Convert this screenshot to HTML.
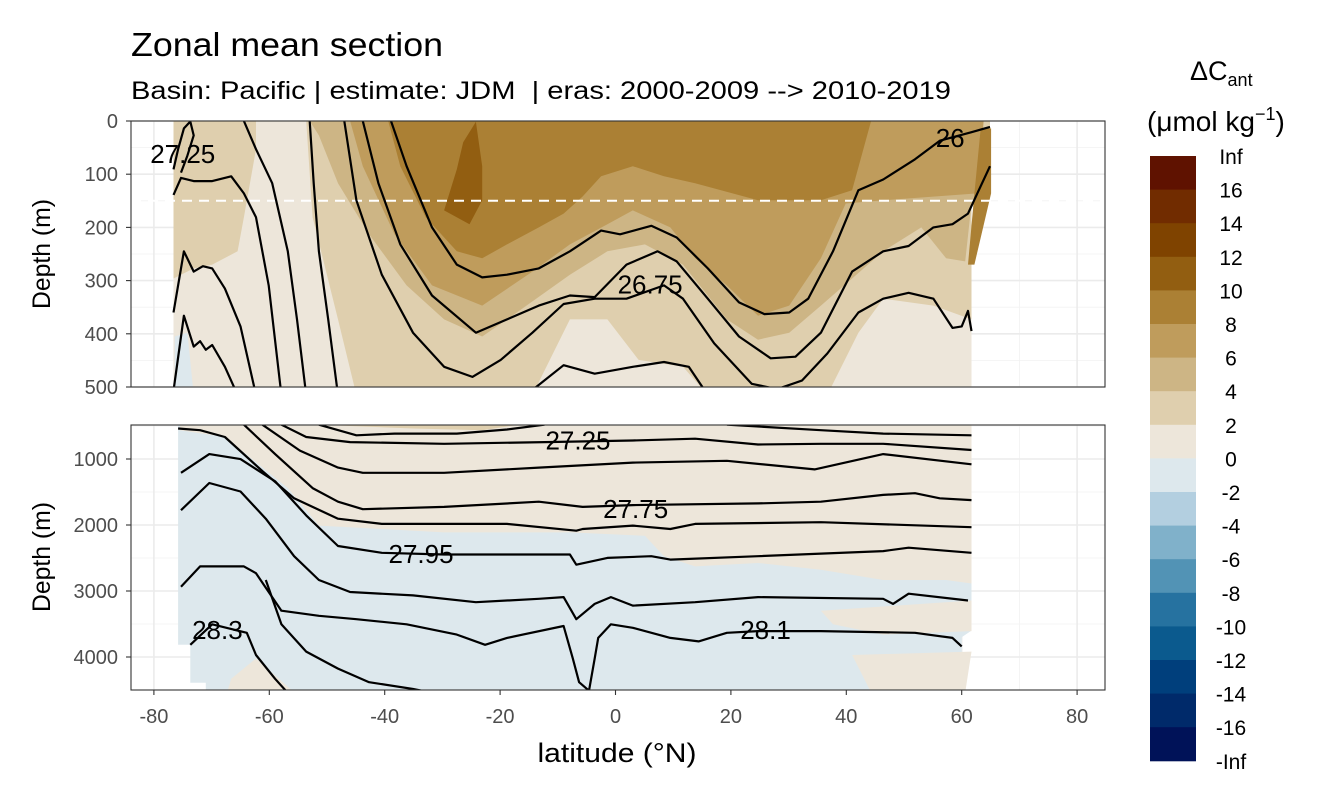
<!DOCTYPE html>
<html><head><meta charset="utf-8">
<style>
html,body{margin:0;padding:0;background:#fff;}
svg{display:block;font-family:"Liberation Sans",Arial,sans-serif;}
</style></head>
<body>
<svg id="chart" width="1344" height="806" viewBox="0 0 1344 806" xmlns="http://www.w3.org/2000/svg">
<defs>
<clipPath id="clipTop"><rect x="131" y="121" width="974" height="266"/></clipPath>
<clipPath id="clipBot"><rect x="131" y="425" width="974" height="265"/></clipPath>
</defs>
<rect width="1344" height="806" fill="#fff"/>
<text x="131" y="56" font-size="33" textLength="312" lengthAdjust="spacingAndGlyphs" fill="#000">Zonal mean section</text>
<text x="131" y="99" font-size="25" textLength="820" lengthAdjust="spacingAndGlyphs" fill="#000" xml:space="preserve">Basin: Pacific | estimate: JDM  | eras: 2000-2009 --&gt; 2010-2019</text>
<g id="gridTop"></g>
<g id="gridBot"></g>
<g id="fillTop" clip-path="url(#clipTop)"></g>
<g id="fillBot" clip-path="url(#clipBot)"></g>
<line id="dashLine" x1="131" x2="1105" stroke="#fff" stroke-width="2" stroke-dasharray="10,7"/>
<g id="linesTop" clip-path="url(#clipTop)"></g>
<g id="linesBot" clip-path="url(#clipBot)"></g>
<g id="labels" font-size="26" fill="#000"></g>
<rect x="131" y="121" width="974" height="266" fill="none" stroke="#333" stroke-width="1.1"/>
<rect x="131" y="425" width="974" height="265" fill="none" stroke="#333" stroke-width="1.1"/>
<g id="axes" font-size="20" fill="#4d4d4d"></g>
<text transform="translate(50,254) rotate(-90)" text-anchor="middle" font-size="25" textLength="110" lengthAdjust="spacingAndGlyphs">Depth (m)</text>
<text transform="translate(50,557) rotate(-90)" text-anchor="middle" font-size="25" textLength="110" lengthAdjust="spacingAndGlyphs">Depth (m)</text>
<text x="617" y="762" text-anchor="middle" font-size="27" textLength="159" lengthAdjust="spacingAndGlyphs">latitude (°N)</text>
<g id="legend">
<text x="1190" y="80" font-size="27">ΔC<tspan font-size="18" dy="6">ant</tspan></text>
<text x="1147" y="131" font-size="28">(μmol kg<tspan font-size="18" dy="-11">−1</tspan><tspan dy="11">)</tspan></text>
</g>
</svg>
<script>
const NS="http://www.w3.org/2000/svg";
// ---- colour scale data ----
const legendBreaks=["Inf","16","14","12","10","8","6","4","2","0","-2","-4","-6","-8","-10","-12","-14","-16","-Inf"];
const legendColors=["#5f1200","#712c00","#7f4300","#925e11","#ab8034","#bf9c5c","#cdb585","#dfcfae","#ede6da","#dde8ed","#b3cfe0","#80b1ca","#5293b5","#2672a0","#0b5a8e","#003f7c","#002a6a","#001258"];
// ---- axis data ----
const latTicks=[-80,-60,-40,-20,0,20,40,60,80];
const latMinor=[-70,-50,-30,-10,10,30,50,70];
const topDepthTicks=[0,100,200,300,400,500];
const topDepthMinor=[50,150,250,350,450];
const botDepthTicks=[1000,2000,3000,4000];
const botDepthMinor=[500,1500,2500,3500,4500];
const mixedLayerDepth=150;
// ---- top panel fills (lat, depth) ----
const topBaseLat=[-76.6,61.7,61.7,-76.6];
const topBaseDep=[0,0,500,500];
const fill24aLat=[-53.6,64.9,64.9,61.7,61.7,55.1,46.4,42.1,36.7,16.0,11.7,4.0,-1.4,-7.9,-14.4,-44.9,-48.1,-52.5];
const fill24aDep=[0,0,136,136,373,347,334,398,515,515,462,449,373,373,515,515,373,181];
const fill24bLat=[-76.6,-62.3,-62.3,-64.4,-65.5,-69.9,-73.1,-76.6];
const fill24bDep=[0,0,53,181,245,270,277,296];
const fill46Lat=[-53.0,63.8,62.7,61.7,60.6,57.3,53.0,46.4,41.0,35.6,30.1,24.7,19.3,11.7,5.1,-1.4,-7.9,-18.8,-23.1,-29.7,-36.2,-42.7,-48.1,-51.4];
const fill46Dep=[0,0,136,155,264,258,200,245,296,347,398,411,373,270,232,245,289,373,405,373,309,213,117,27];
const fill68Lat=[-48.1,63.8,62.7,46.4,39.9,35.6,30.1,24.7,19.3,13.8,9.5,3.0,-1.4,-7.9,-14.4,-23.1,-31.8,-38.3,-43.8,-46.0];
const fill68Dep=[0,0,136,149,155,258,347,366,309,258,200,168,194,232,283,347,309,213,85,0];
const fill810Lat=[-39.4,44.3,41.0,35.6,24.7,13.8,8.4,3.0,-2.5,-5.7,-9.0,-13.3,-18.8,-23.1,-27.5,-32.9,-37.3];
const fill810Dep=[0,0,130,149,149,117,104,85,104,142,174,200,232,258,245,181,85];
const fill810rLat=[63.3,65.1,65.1,62.2,61.1,62.2];
const fill810rDep=[14,14,136,270,270,136];
const fill1012Lat=[-26.4,-24.2,-23.1,-23.1,-25.3,-29.7,-27.5];
const fill1012Dep=[40,1.5,85,149,194,168,91];
const fillTopBlueLat=[-76.4,-74.2,-73.1,-76.4];
const fillTopBlueDep=[405,398,515,515];
// ---- bottom panel fills ----
const botBaseLat=[-75.8,61.7,61.7,60.0,60.0,-71.0,-71.0,-73.7,-73.7,-75.8];
const botBaseDep=[480,480,3600,3700,4600,4600,4390,4390,3815,3815];
const botBeigeLat=[-75.5,61.7,61.7,57.3,46.4,35.6,24.7,13.8,8.4,5.1,-7.9,-29.7,-40.5,-51.4,-56.8,-67.7,-75.5];
const botBeigeDep=[480,480,2886,2834,2834,2679,2576,2628,2473,2163,2112,2112,2060,2009,1441,667,564];
const botBeige2Lat=[35.6,61.7,61.7,46.4,37.7];
const botBeige2Dep=[3299,3144,3608,3660,3505];
const botBeige3Lat=[41.0,61.7,60.6,44.3];
const botBeige3Dep=[3969,3918,4537,4537];
const botBeige4Lat=[-66.6,-62.3,-55.7,-57.9,-67.7];
const botBeige4Dep=[4331,4021,4537,4650,4650];
const botTanLat=[-51.4,-16.6,-23.1,-35.1,-46.0];
const botTanDep=[480,480,564,538,500];
// ---- top panel isopycnals ----
const tL1Lat=[-76.6,-74.8,-73.1,-72.0,-71.0,-69.9,-67.7,-65.5];
const tL1Dep=[507,366,424,414,430,421,462,515];
const tL2Lat=[-76.6,-74.8,-73.1,-71.5,-69.9,-67.7,-65.0,-62.3];
const tL2Dep=[360,245,283,273,277,315,386,515];
const tL3Lat=[-76.6,-75.3,-73.1,-69.9,-66.6,-64.4,-62.3,-60.1,-57.9];
const tL3Dep=[139,107,113,113,104,136,181,309,515];
const tL4Lat=[-64.4,-62.3,-59.5,-56.8,-55.2,-53.6];
const tL4Dep=[0,53,117,245,373,515];
const tL5Lat=[-53.0,-52.3,-51.4,-49.8,-48.1];
const tL5Dep=[0,117,245,373,515];
const tW3Lat=[-47.0,-44.9,-40.5,-35.1,-29.7,-24.8,-19.9,-14.4,-9.0,-3.6,1.9,8.4,11.7,17.1,23.6,28.0,32.3,36.7,42.1,46.4,50.8,55.1,58.4,60.0,61.1,61.7];
const tW3Dep=[0,149,289,398,462,481,449,398,344,334,334,309,334,418,494,504,488,437,360,334,323,334,389,386,357,395];
const tW2Lat=[-43.8,-41.1,-37.3,-31.8,-24.2,-18.8,-13.3,-7.9,-3.6,1.9,7.3,10.6,16.0,21.4,26.9,31.2,35.6,41.0,46.4,50.8,55.1,58.4,61.1,62.7,64.9];
const tW2Dep=[0,117,232,328,398,373,347,328,331,270,245,264,334,405,446,443,398,283,245,235,200,194,174,136,85];
const tW1Lat=[-38.9,-36.2,-31.8,-27.5,-23.1,-18.8,-13.3,-7.9,-2.5,0.8,6.2,10.6,16.0,21.4,25.8,30.1,33.4,37.7,42.1,46.4,51.9,56.2,61.7,64.9];
const tW1Dep=[0,85,200,270,294,289,277,245,206,213,197,219,277,341,363,360,334,245,130,110,72,37,21,11];
const tW4Lat=[-15.5,-9.0,-3.6,3.0,8.4,12.7,16.0];
const tW4Dep=[515,459,475,462,453,462,515];
const tCurlLat=[-76.6,-75.8,-74.8,-73.7,-73.1,-74.2,-75.3];
const tCurlDep=[91,53,14,1,27,65,97];
// ---- bottom panel isopycnals ----
const bL1Lat=[-51.4,-44.9,-38.3,-27.5,-18.8,-12.3];
const bL1Dep=[480,641,615,615,553,480];
const bL1rLat=[19.3,35.6,46.4,61.7];
const bL1rDep=[480,564,615,641];
const bL2Lat=[-57.9,-53.6,-46.0,-29.7,-12.3,3.0,13.8,24.7,35.6,46.4,61.7];
const bL2Dep=[480,667,744,770,744,719,693,781,770,770,863];
const bL3Lat=[-61.2,-54.7,-48.1,-43.8,-29.7,-13.3,3.0,19.3,34.5,46.4,61.7];
const bL3Dep=[480,873,1131,1209,1209,1131,1054,1028,1157,925,1080];
const bL4Lat=[-64.4,-59.0,-52.5,-48.1,-43.8,-29.7,-13.3,-5.7,3.0,24.7,35.6,46.4,51.9,56.2,61.7];
const bL4Dep=[480,925,1441,1647,1761,1725,1647,1725,1699,1673,1647,1544,1518,1596,1622];
const bL5Lat=[-75.8,-72.0,-67.7,-61.2,-55.7,-48.1,-40.5,-18.8,-6.8,-5.7,3.0,9.5,13.8,35.6,61.7];
const bL5Dep=[538,564,667,1183,1596,1905,1983,1983,2086,2060,2009,2060,1983,1957,2034];
const bL6Lat=[-75.3,-70.4,-65.0,-59.0,-53.6,-48.1,-40.5,-29.7,-7.9,-6.8,-1.4,6.2,9.5,24.7,46.4,50.8,61.7];
const bL6Dep=[1209,925,1002,1338,1854,2318,2421,2447,2447,2602,2499,2473,2525,2473,2396,2344,2421];
const bL7Lat=[-75.3,-70.4,-65.0,-60.6,-55.7,-51.4,-46.0,-35.1,-24.2,-13.3,-9.0,-6.8,-3.6,-0.8,3.0,13.8,24.7,46.4,48.1,50.8,61.1];
const bL7Dep=[1776,1364,1493,1905,2473,2834,3015,3066,3170,3118,3092,3428,3195,3092,3221,3170,3092,3118,3195,3041,3144];
const bL8Lat=[-75.3,-72.0,-64.4,-62.3,-57.9,-51.4,-44.9,-36.2,-27.5,-22.6,-18.8,-9.0,-7.4,-6.3,-4.6,-3.6,-3.0,-0.8,3.0,9.5,14.4,19.3,24.7,35.6,51.9,58.4,60.0];
const bL8Dep=[2937,2628,2628,2731,3299,3376,3428,3505,3660,3815,3711,3531,4021,4382,4511,4021,3711,3505,3557,3711,3763,3634,3608,3608,3634,3711,3840];
const bL9Lat=[-60.6,-57.9,-53.6,-48.1,-42.7,-35.1,-27.5];
const bL9Dep=[2834,3505,3918,4176,4382,4485,4614];
const bL10Lat=[-73.7,-69.9,-63.9,-62.3,-59.0,-55.7];
const bL10Dep=[3815,3505,3634,3969,4331,4650];
// ---- contour labels ----
const labelText=["27.25","26","26.75","27.25","27.75","27.95","28.3","28.1"];
const labelLat=[-75.0,58.0,6.0,-6.5,3.5,-33.7,-69.0,26.0];
const labelDep=[62,32,307,720,1755,2440,3590,3590];
const labelPanel=["top","top","top","bot","bot","bot","bot","bot"];

// ---- scales ----
function xS(lat){return 615.5+lat*5.77;}
function yT(d){return 121+d*0.532;}
function yB(d){return 459+(d-1000)*0.066;}

function mk(tag,attrs,parent){const e=document.createElementNS(NS,tag);for(const k in attrs)e.setAttribute(k,attrs[k]);parent.appendChild(e);return e;}
function pts(lats,deps,yf){return lats.map((l,i)=>xS(l).toFixed(1)+","+yf(deps[i]).toFixed(1)).join(" ");}

// grid
const gT=document.getElementById('gridTop'), gB=document.getElementById('gridBot');
function grid(g,ticks,minor,yf,y0,y1){
  minor.forEach(v=>{const l=mk('line',{x1:131,x2:1105,y1:yf(v),y2:yf(v),stroke:'#f2f2f2','stroke-width':0.8},g);
    
    });
  latMinor.forEach(v=>{const l=mk('line',{x1:xS(v),x2:xS(v),y1:y0,y2:y1,stroke:'#f2f2f2','stroke-width':0.8},g);
    
    });
  ticks.forEach(v=>{const l=mk('line',{x1:131,x2:1105,y1:yf(v),y2:yf(v),stroke:'#ebebeb','stroke-width':1.6},g);
    
    });
  latTicks.forEach(v=>{const l=mk('line',{x1:xS(v),x2:xS(v),y1:y0,y2:y1,stroke:'#ebebeb','stroke-width':1.6},g);
    
    });
}
grid(gT,topDepthTicks,topDepthMinor,yT,121,387);
grid(gB,botDepthTicks,botDepthMinor,yB,425,690);

// fills
const fT=document.getElementById('fillTop'), fB=document.getElementById('fillBot');
const topFills=[[topBaseLat,topBaseDep,8],[fillTopBlueLat,fillTopBlueDep,9],[fill24aLat,fill24aDep,7],[fill24bLat,fill24bDep,7],[fill46Lat,fill46Dep,6],[fill68Lat,fill68Dep,5],[fill810Lat,fill810Dep,4],[fill810rLat,fill810rDep,4],[fill1012Lat,fill1012Dep,3]];
topFills.forEach(f=>{const p=mk('polygon',{points:pts(f[0],f[1],yT),fill:legendColors[f[2]]},fT);
  
  });
const botFills=[[botBaseLat,botBaseDep,9],[botBeigeLat,botBeigeDep,8],[botBeige2Lat,botBeige2Dep,8],[botBeige3Lat,botBeige3Dep,8],[botBeige4Lat,botBeige4Dep,8],[botTanLat,botTanDep,7]];
botFills.forEach(f=>{const p=mk('polygon',{points:pts(f[0],f[1],yB),fill:legendColors[f[2]]},fB);
  
  });

// dashed line
const dl=document.getElementById('dashLine');dl.setAttribute('y1',yT(mixedLayerDepth));dl.setAttribute('y2',yT(mixedLayerDepth));

// isopycnals
const lT=document.getElementById('linesTop'), lB=document.getElementById('linesBot');
[[tL1Lat,tL1Dep],[tL2Lat,tL2Dep],[tL3Lat,tL3Dep],[tL4Lat,tL4Dep],[tL5Lat,tL5Dep],[tW3Lat,tW3Dep],[tW2Lat,tW2Dep],[tW1Lat,tW1Dep],[tW4Lat,tW4Dep],[tCurlLat,tCurlDep]].forEach(l=>{
  const p=mk('polyline',{points:pts(l[0],l[1],yT),fill:'none',stroke:'#000','stroke-width':2.2,'stroke-linejoin':'round'},lT);
  
  });
[[bL1Lat,bL1Dep],[bL1rLat,bL1rDep],[bL2Lat,bL2Dep],[bL3Lat,bL3Dep],[bL4Lat,bL4Dep],[bL5Lat,bL5Dep],[bL6Lat,bL6Dep],[bL7Lat,bL7Dep],[bL8Lat,bL8Dep],[bL9Lat,bL9Dep],[bL10Lat,bL10Dep]].forEach(l=>{
  const p=mk('polyline',{points:pts(l[0],l[1],yB),fill:'none',stroke:'#000','stroke-width':2.2,'stroke-linejoin':'round'},lB);
  
  });

// contour labels
const lg=document.getElementById('labels');
labelText.forEach((t,i)=>{const yf=labelPanel[i]==='top'?yT:yB;
  const e=mk('text',{x:xS(labelLat[i]),y:yf(labelDep[i])+9,'text-anchor':'middle'},lg);e.textContent=t;
  
  });

// axes
const ax=document.getElementById('axes');
function yAxis(ticks,yf){ticks.forEach(v=>{
  const tk=mk('line',{x1:126,x2:131,y1:yf(v),y2:yf(v),stroke:'#333','stroke-width':1.1},ax);
  
  
  const t=mk('text',{x:118,y:yf(v)+7,'text-anchor':'end'},ax);t.textContent=v;
  
  });}
yAxis(topDepthTicks,yT);yAxis(botDepthTicks,yB);
latTicks.forEach(v=>{
  const tk=mk('line',{x1:xS(v),x2:xS(v),y1:690,y2:695,stroke:'#333','stroke-width':1.1},ax);
  
  
  const t=mk('text',{x:xS(v),y:723,'text-anchor':'middle'},ax);t.textContent=v;
  
  });

// legend
const leg=document.getElementById('legend');
const cbTop=156, cbH=33.6;
legendColors.forEach((c,i)=>{const r=mk('rect',{x:1150,y:cbTop+i*cbH,width:46,height:cbH+0.5,fill:c},leg);
  
  });
legendBreaks.forEach((b,i)=>{const t=mk('text',{x:1231,y:cbTop+i*cbH+8,'text-anchor':'middle','font-size':21,fill:'#000'},leg);t.textContent=b;
  
  });
</script>
</body></html>
